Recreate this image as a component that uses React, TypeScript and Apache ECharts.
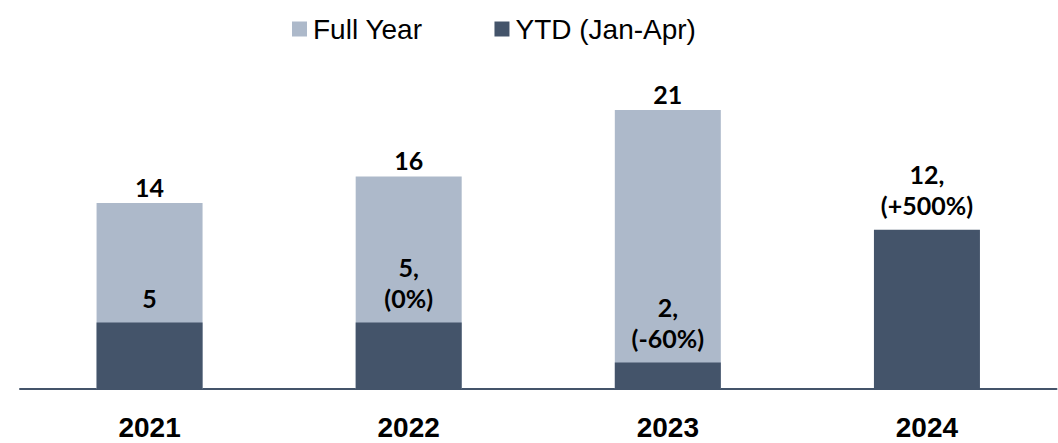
import React, { useEffect, useRef } from "react";
import * as echarts from "echarts";

const categories = ["2021", "2022", "2023", "2024"];
const fullYear: (number | null)[] = [14, 16, 21, null];
const ytd = [5, 5, 2, 12];
const ytdLabels = ["5", "5,\n(0%)", "2,\n(-60%)", "12,\n(+500%)"];
const seriesNames = ["Full Year", "YTD (Jan-Apr)"];

export default function App() {
  const ref = useRef<HTMLDivElement>(null);
  useEffect(() => {
    document.body.style.margin = "0";
    const chart = echarts.init(ref.current!, undefined, { renderer: "svg" });
    const labelFont = {
      fontFamily: "Lato",
      fontWeight: "bold" as const,
      fontSize: 25,
      lineHeight: 31,
      color: "#000",
    };
    chart.setOption({
      animation: false,
      backgroundColor: "#fff",
      legend: {
        top: 10,
        left: 287,
        itemWidth: 15,
        itemHeight: 15,
        itemGap: 72,
        icon: "rect",
        textStyle: {
          fontFamily: "Liberation Sans",
          fontSize: 28,
          color: "#000",
          padding: [0, 0, 0, 1],
        },
        data: seriesNames,
      },
      grid: { left: 20, right: 1.5, top: 57, bottom: 54 },
      xAxis: {
        type: "category",
        data: categories,
        axisLine: { lineStyle: { color: "#44546A", width: 2 } },
        axisTick: { show: false },
        axisLabel: {
          margin: 24,
          fontFamily: "Liberation Sans",
          fontWeight: "bold",
          fontSize: 28,
          color: "#000",
        },
      },
      yAxis: {
        type: "value",
        min: 0,
        max: 25,
        show: false,
        splitLine: { show: false },
      },
      series: [
        {
          name: seriesNames[0],
          type: "bar",
          data: fullYear,
          barWidth: 106,
          barGap: "-100%",
          itemStyle: { color: "#ADB9CA" },
          label: { show: true, position: "top", distance: 1, ...labelFont },
        },
        {
          name: seriesNames[1],
          type: "bar",
          data: ytd,
          barWidth: 106,
          barGap: "-100%",
          itemStyle: { color: "#44546A" },
          label: {
            show: true,
            position: "top",
            distance: 9,
            ...labelFont,
            formatter: (p: any) => ytdLabels[p.dataIndex],
          },
        },
      ],
    });
    return () => chart.dispose();
  }, []);
  return <div ref={ref} style={{ width: 1058, height: 443 }} />;
}
